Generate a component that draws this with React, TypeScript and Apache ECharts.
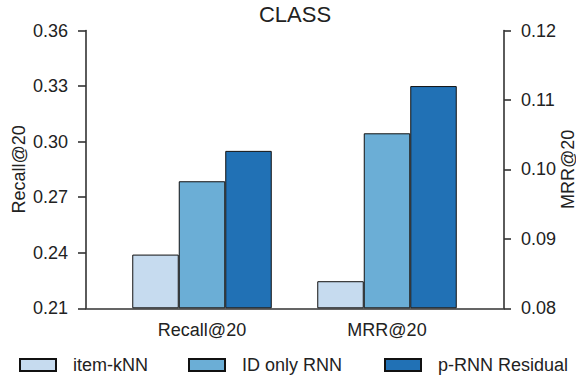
import React, { useEffect, useRef } from "react";
import * as echarts from "echarts";

// Metric groups along the x axis
const categories = ["Recall@20", "MRR@20"];
// Methods compared in each group
const methods = ["item-kNN", "ID only RNN", "p-RNN Residual"];
// Recall@20 per method (left axis)
const recallValues = [0.239, 0.2786, 0.295];
// MRR@20 per method (right axis)
const mrrValues = [0.0839, 0.1052, 0.112];
// Axis ranges
const recallAxis = { min: 0.21, max: 0.36, interval: 0.03 };
const mrrAxis = { min: 0.08, max: 0.12, interval: 0.01 };

const colors = ["#c6dbef", "#6baed6", "#2171b5"];
const FONT = "'Liberation Sans', Arial, Helvetica, sans-serif";
const INK = "#222";
const AXIS = "#333";

export default function App() {
  const ref = useRef<HTMLDivElement>(null);

  useEffect(() => {
    document.body.style.margin = "0";
    if (!ref.current) return;
    const chart = echarts.init(ref.current, null, { renderer: "svg" });

    const frame = { left: 86, right: 72, top: 30.5, bottom: 67.7 };
    const bars = { left: 109.5, right: 96.5, top: 30.5, bottom: 67.7 };

    const barSeries = (values: number[], slot: number, grid: number) =>
      methods.map((name, i) => ({
        name,
        type: "bar" as const,
        xAxisIndex: grid,
        yAxisIndex: grid + 1,
        barWidth: 46.5,
        barGap: "0%",
        data: categories.map((_, c) => (c === slot ? values[i] : "-")),
        itemStyle: { color: colors[i], borderColor: "#111", borderWidth: 1 },
      }));

    const tickFmt = (v: number) => v.toFixed(2);

    chart.setOption({
      animation: false,
      textStyle: { fontFamily: FONT },
      title: {
        text: "CLASS",
        left: 295,
        textAlign: "center",
        top: 3,
        padding: 0,
        textStyle: { fontFamily: FONT, fontSize: 22, fontWeight: "normal", color: INK },
      },
      legend: methods.map((m, i) => ({
        data: [m],
        left: [19, 188, 384][i],
        top: 356,
        padding: 0,
        itemWidth: 36,
        itemHeight: 12,
        icon: "rect",
        selectedMode: false,
        textStyle: { fontFamily: FONT, fontSize: 18, color: INK, padding: [0, 0, 0, 12] },
      })),
      grid: [
        { ...frame, containLabel: false, outerBoundsMode: "none" },
        { ...bars, containLabel: false, outerBoundsMode: "none" },
        { ...bars, containLabel: false, outerBoundsMode: "none" },
      ],
      xAxis: [
        {
          gridIndex: 0,
          type: "category",
          data: categories,
          axisLine: { show: true, lineStyle: { color: AXIS, width: 1.6 } },
          axisTick: { show: false },
          axisLabel: { show: false },
          splitLine: { show: false },
        },
        {
          gridIndex: 1,
          type: "category",
          data: categories,
          axisLine: { show: false },
          axisTick: { show: false },
          axisLabel: { fontFamily: FONT, fontSize: 18, color: INK, margin: 13 },
          splitLine: { show: false },
        },
        {
          gridIndex: 2,
          type: "category",
          data: categories,
          show: false,
        },
      ],
      yAxis: [
        {
          gridIndex: 0,
          type: "value",
          position: "left",
          ...recallAxis,
          name: "Recall@20",
          nameLocation: "middle",
          nameRotate: 90,
          nameGap: 58,
          nameMoveOverlap: false,
          nameTextStyle: { fontFamily: FONT, fontSize: 18, color: INK },
          axisLine: { show: true, lineStyle: { color: AXIS, width: 1.6 } },
          axisTick: { show: true, length: 8, lineStyle: { color: AXIS, width: 1.6 } },
          axisLabel: { fontFamily: FONT, fontSize: 18, color: INK, margin: 18, formatter: tickFmt },
          splitLine: { show: false },
        },
        {
          gridIndex: 0,
          type: "value",
          position: "right",
          ...mrrAxis,
          name: "MRR@20",
          nameLocation: "middle",
          nameRotate: 90,
          nameGap: 55,
          nameMoveOverlap: false,
          nameTextStyle: { fontFamily: FONT, fontSize: 18, color: INK },
          axisLine: { show: true, lineStyle: { color: AXIS, width: 1.6 } },
          axisTick: { show: true, length: 7, lineStyle: { color: AXIS, width: 1.6 } },
          axisLabel: { fontFamily: FONT, fontSize: 18, color: INK, margin: 17, formatter: tickFmt },
          splitLine: { show: false },
        },
        {
          gridIndex: 1,
          type: "value",
          ...recallAxis,
          startValue: recallAxis.min,
          show: false,
        },
        {
          gridIndex: 2,
          type: "value",
          ...mrrAxis,
          startValue: mrrAxis.min,
          show: false,
        },
      ],
      series: [...barSeries(recallValues, 0, 1), ...barSeries(mrrValues, 1, 2)],
    });

    return () => chart.dispose();
  }, []);

  return <div ref={ref} style={{ width: 576, height: 376 }} />;
}
